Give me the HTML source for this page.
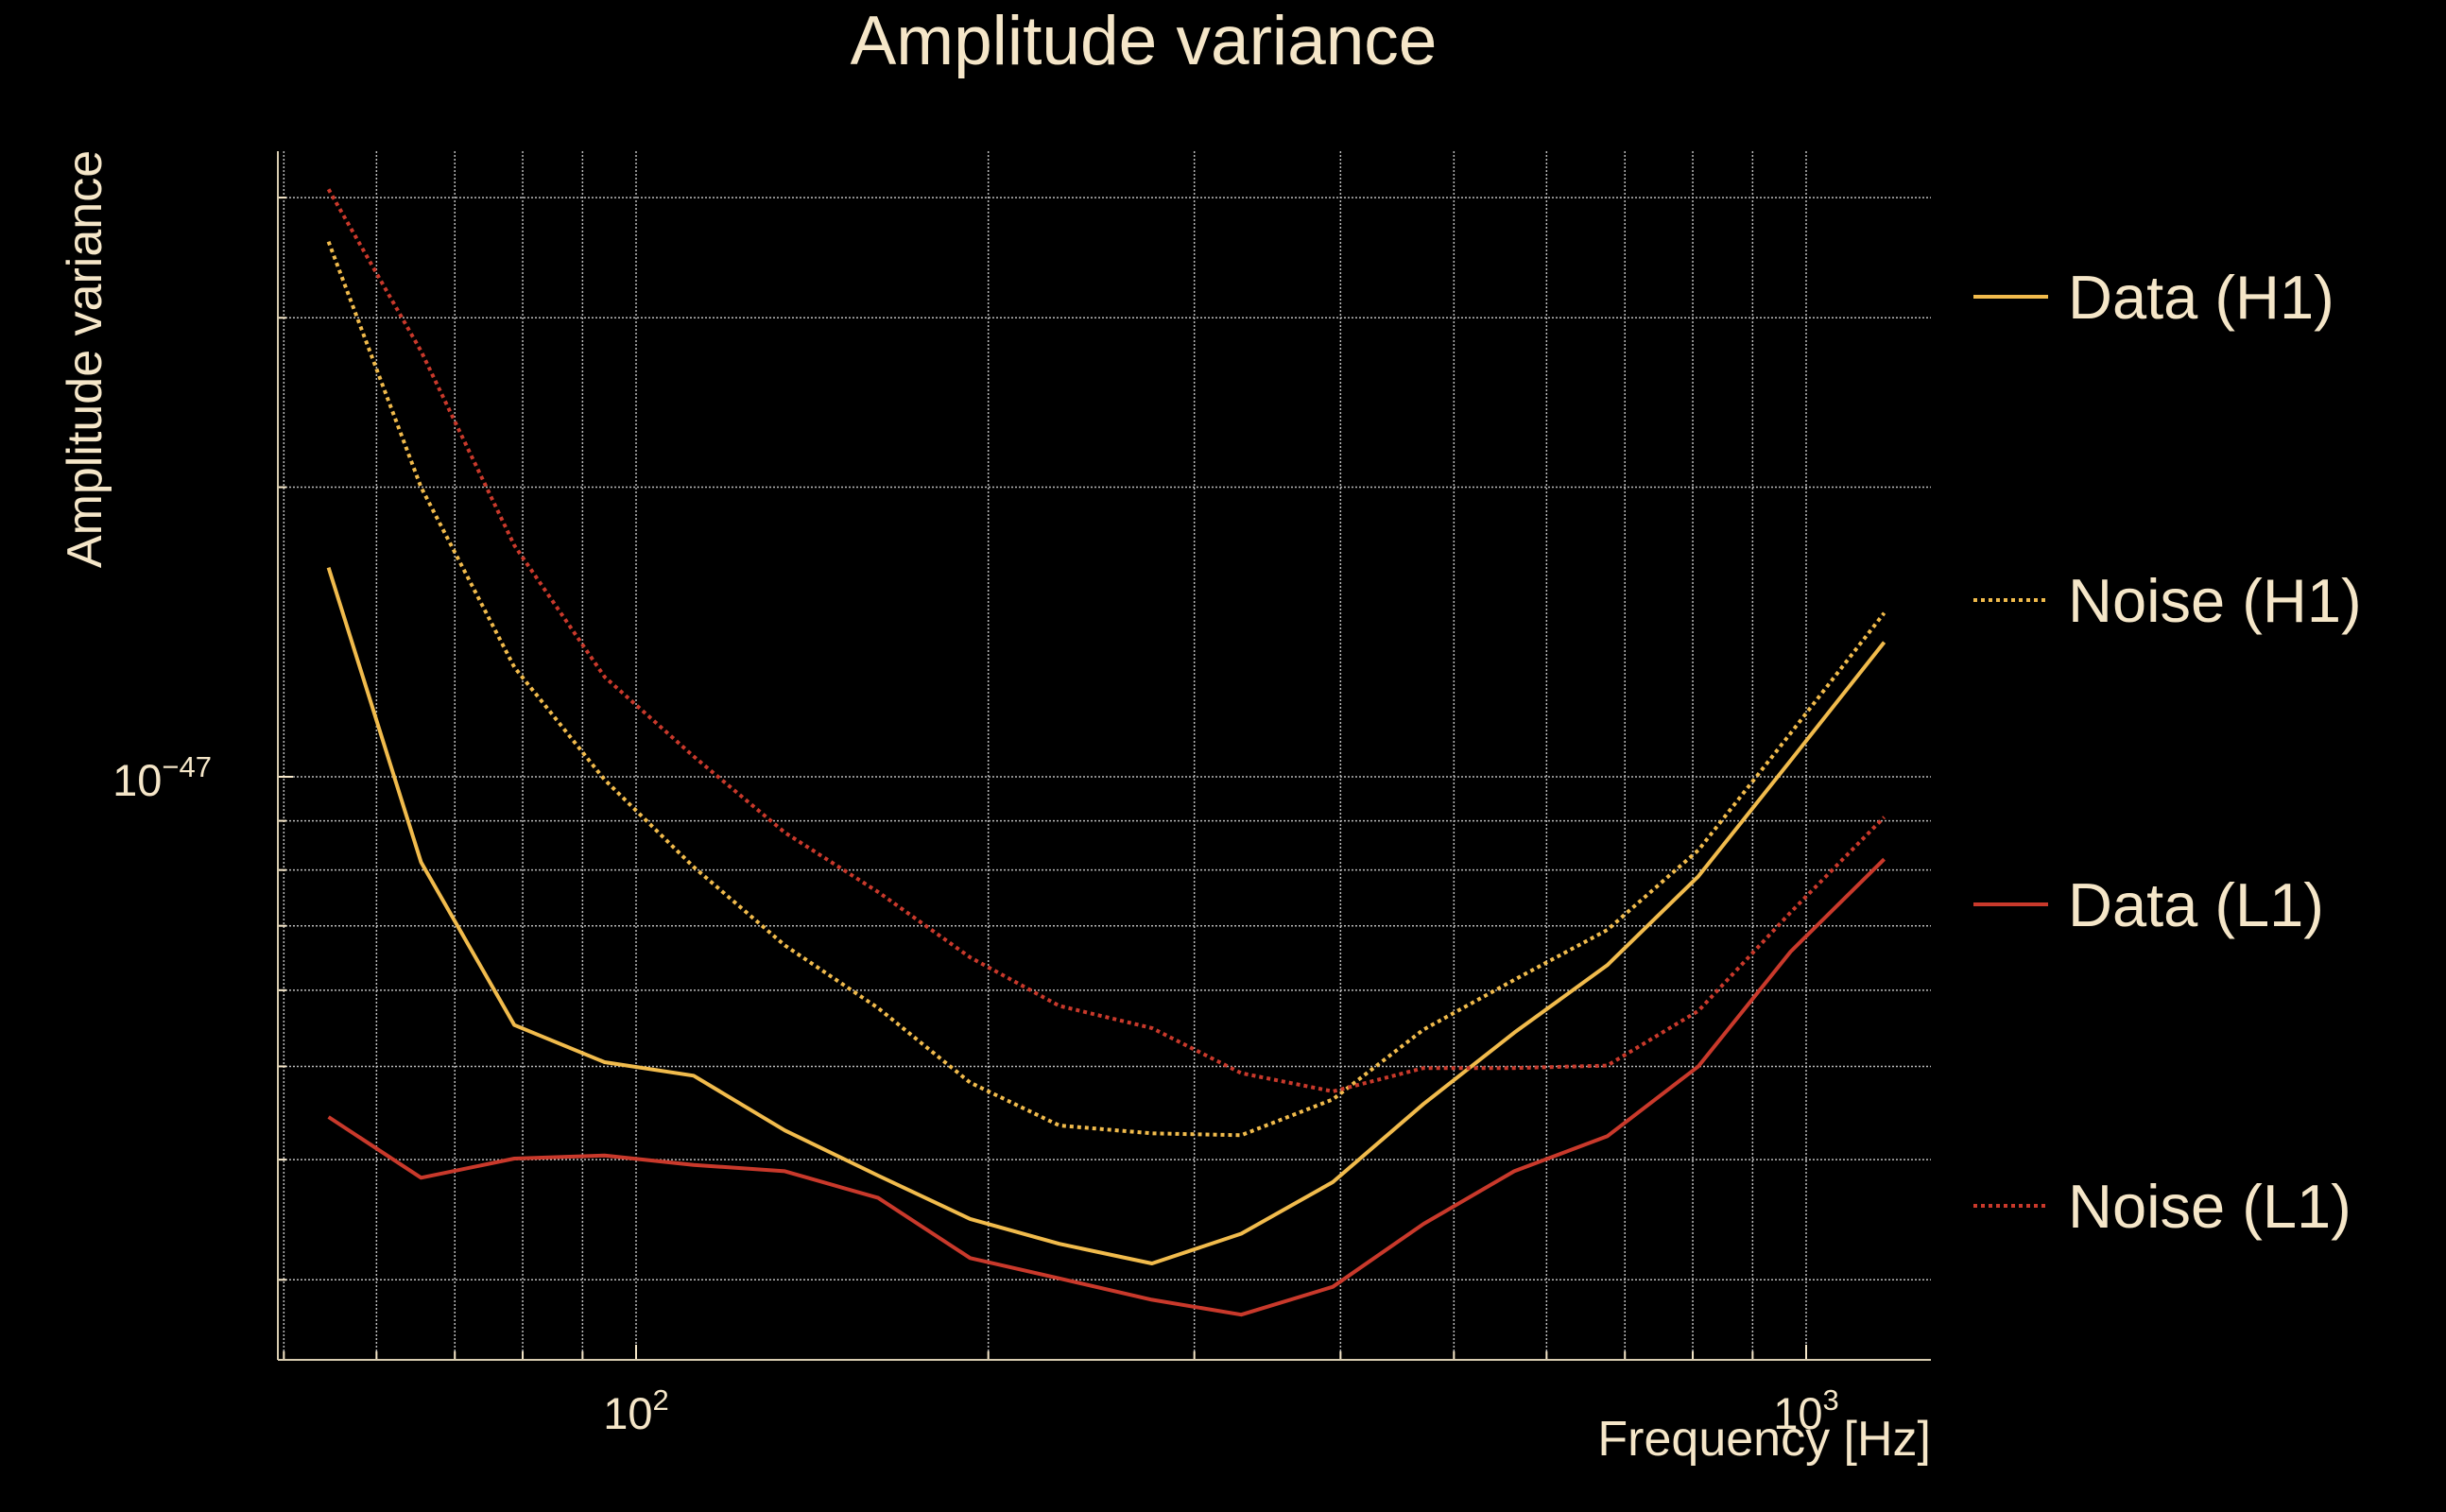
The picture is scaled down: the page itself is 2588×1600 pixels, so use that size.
<!DOCTYPE html>
<html><head><meta charset="utf-8"><style>
html,body{margin:0;padding:0;background:#000;}
svg{display:block;font-family:"Liberation Sans",sans-serif;}
</style></head><body>
<svg id="chart" width="2588" height="1600" viewBox="0 0 2588 1600">
<rect width="2588" height="1600" fill="#000"/>
<text x="1210" y="68" text-anchor="middle" font-size="73" fill="#f5e6c8">Amplitude variance</text>
<text transform="translate(107,380) rotate(-90)" text-anchor="middle" font-size="52" fill="#f5e6c8">Amplitude variance</text>
<text x="2043" y="1540" text-anchor="end" font-size="52" fill="#f5e6c8">Frequency [Hz]</text>
<g id="grid"></g>
<g id="ticks"></g>
<g id="series"></g>
<g id="legend"></g>
</svg>
<script>
const freqs=[54.6,65.5,78.7,94,112,134,161,193,230,276,329,394,471,563,676,809,970,1166];
const dataH1=[16.5,8.15,5.52,5.05,4.89,4.29,3.85,3.47,3.27,3.12,3.35,3.79,4.57,5.42,6.37,7.88,10.4,13.8];
const noiseH1=[36.0,20.0,13.0,9.93,8.06,6.68,5.75,4.81,4.34,4.26,4.24,4.62,5.46,6.15,6.93,8.39,11.1,14.8];
const dataL1=[4.43,3.83,4.01,4.04,3.95,3.89,3.65,3.16,3.01,2.86,2.76,2.95,3.43,3.89,4.23,5.00,6.58,8.21];
const noiseL1=[40.8,27.7,17.4,12.7,10.5,8.75,7.59,6.49,5.78,5.48,4.92,4.71,4.98,4.98,5.01,5.71,7.23,9.08];
const xGridVals=[50,60,70,80,90,100,200,300,400,500,600,700,800,900,1000];
const yGridVals=[3,4,5,6,7,8,9,10,20,30,40];
const NS="http://www.w3.org/2000/svg";
const L=294,R=2043,T=160,B=1439;
function xs(f){return 673+(Math.log10(f)-2)*1238;}
function ys(v){return 822+(1-Math.log10(v))*1018;}
function mk(tag,attrs,parent){const e=document.createElementNS(NS,tag);for(const k in attrs)e.setAttribute(k,attrs[k]);parent.appendChild(e);return e;}
const grid=document.getElementById('grid'),ticks=document.getElementById('ticks'),series=document.getElementById('series'),legend=document.getElementById('legend');
xGridVals.forEach(f=>{const x=xs(f);
 const l=mk('line',{x1:x,x2:x,y1:T,y2:B,stroke:'#bbb','stroke-width':1.5,'stroke-dasharray':'2,2'},grid);
 
 
 const t=mk('line',{x1:x,x2:x,y1:B,y2:B-(f===100||f===1000?16:9),stroke:'#f5e6c8','stroke-width':2},ticks);
 
 
});
yGridVals.forEach(v=>{const y=ys(v);
 const l=mk('line',{x1:L,x2:R,y1:y,y2:y,stroke:'#bbb','stroke-width':1.5,'stroke-dasharray':'2,2'},grid);
 
 
 const t=mk('line',{x1:L,x2:L+(v===10?16:9),y1:y,y2:y,stroke:'#f5e6c8','stroke-width':2},ticks);
 
 
});
let ax=mk('line',{x1:L,x2:L,y1:T,y2:B,stroke:'#d8ccb0','stroke-width':2},ticks);


ax=mk('line',{x1:L,x2:R,y1:B,y2:B,stroke:'#d8ccb0','stroke-width':2},ticks);


function tickLabel(x,y,anchor,base,exp,name){
 const t=mk('text',{x:x,y:y,'text-anchor':anchor,'font-size':47,fill:'#f5e6c8'},ticks);
 
 
 t.textContent=base;
 const s=mk('tspan',{dy:-20,'font-size':31},t);s.textContent=exp;
}
tickLabel(xs(100),1512,'middle','10','2','x-tick-label-100');
tickLabel(xs(1000),1512,'middle','10','3','x-tick-label-1000');
tickLabel(224,ys(10)+20,'end','10','−47','y-tick-label-1e-47');
const sers=[
 {vals:dataH1,color:'#f1bb4c',dash:null,name:'data-h1-line',label:'Data (H1)',ly:314},
 {vals:noiseH1,color:'#f1bb4c',dash:'4,4',name:'noise-h1-line',label:'Noise (H1)',ly:635},
 {vals:dataL1,color:'#c9392b',dash:null,name:'data-l1-line',label:'Data (L1)',ly:957},
 {vals:noiseL1,color:'#c9392b',dash:'4,4',name:'noise-l1-line',label:'Noise (L1)',ly:1276}
];
sers.forEach(s=>{
 const pts=s.vals.map((v,i)=>xs(freqs[i]).toFixed(1)+','+ys(v).toFixed(1)).join(' ');
 const a={points:pts,fill:'none',stroke:s.color,'stroke-width':4,'stroke-linejoin':'round'};
 if(s.dash)a['stroke-dasharray']=s.dash;
 const p=mk('polyline',a,series);
 
 
 const la={x1:2088,x2:2167,y1:s.ly,y2:s.ly,stroke:s.color,'stroke-width':4};
 if(s.dash)la['stroke-dasharray']=s.dash;
 const ll=mk('line',la,legend);
 
 
 const t=mk('text',{x:2188,y:s.ly+23,'font-size':65,fill:'#f5e6c8'},legend);
 
 
 t.textContent=s.label;
});
</script>
</body></html>
